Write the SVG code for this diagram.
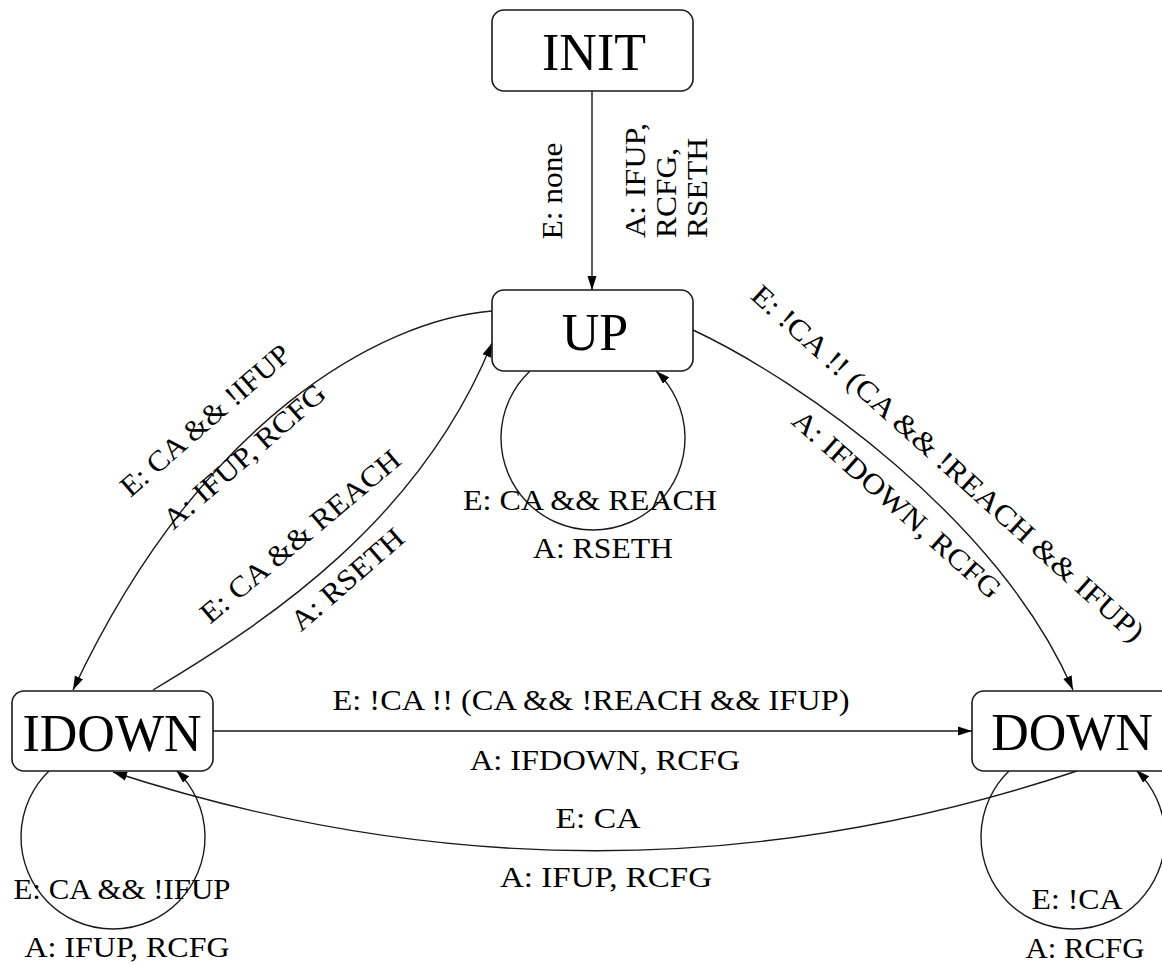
<svg xmlns="http://www.w3.org/2000/svg" width="1162" height="965" viewBox="0 0 1162 965">
<style>
.node rect{fill:#fff;stroke:#1a1a1a;stroke-width:1.6}
.node text{font-family:'Liberation Serif','DejaVu Serif',serif;font-size:52px;fill:#000;text-anchor:middle}
.edge path,.edge line{fill:none;stroke:#1a1a1a;stroke-width:1.4}
.lbl{font-family:'Liberation Serif','DejaVu Serif',serif;font-size:29px;fill:#000;text-anchor:middle}
.lbls{font-family:'Liberation Serif','DejaVu Serif',serif;font-size:29px;fill:#000;text-anchor:start}
</style>
<defs>
<marker id="ah" markerUnits="userSpaceOnUse" markerWidth="15" markerHeight="10" refX="14" refY="5" orient="auto">
<path d="M0,0.5 L14,5 L0,9.5 z" fill="#000"/>
</marker>
</defs>
<rect width="1162" height="965" fill="#fff"/>
<g id="connectors" class="edge">
<line x1="592" y1="91" x2="592" y2="290" marker-end="url(#ah)"/>
<path d="M492,311 C380,320 200,420 73,690" marker-end="url(#ah)"/>
<path d="M153,690 C270,620 420,520 492,343" marker-end="url(#ah)"/>
<path d="M530,371 A92,92 0 1 0 656,371" marker-end="url(#ah)"/>
<path d="M693,330 C800,380 1000,520 1073,690" marker-end="url(#ah)"/>
<line x1="213" y1="731" x2="972" y2="731" marker-end="url(#ah)"/>
<path d="M1077,771 Q600,930 113,772" marker-end="url(#ah)"/>
<path d="M50,770 A92,92 0 1 0 176,770" marker-end="url(#ah)"/>
<path d="M1010,770 A92,92 0 1 0 1136,770" marker-end="url(#ah)"/>
</g>
<g id="edge-labels">
<text class="lbl" transform="translate(552,191) rotate(-90)" x="0" y="10" textLength="97" lengthAdjust="spacingAndGlyphs">E: none</text>
<text class="lbls" transform="translate(645,238) rotate(-90)" textLength="115" lengthAdjust="spacingAndGlyphs">A: IFUP,</text>
<text class="lbls" transform="translate(676,238) rotate(-90)" textLength="90" lengthAdjust="spacingAndGlyphs">RCFG,</text>
<text class="lbls" transform="translate(707,238) rotate(-90)" textLength="100" lengthAdjust="spacingAndGlyphs">RSETH</text>
<text class="lbl" transform="translate(205,420) rotate(-41)" x="0" y="10" textLength="215" lengthAdjust="spacingAndGlyphs">E: CA &amp;&amp; !IFUP</text>
<text class="lbl" transform="translate(244,456) rotate(-41)" x="0" y="10" textLength="205" lengthAdjust="spacingAndGlyphs">A: IFUP, RCFG</text>
<text class="lbl" transform="translate(300,536) rotate(-40)" x="0" y="10" textLength="252" lengthAdjust="spacingAndGlyphs">E: CA &amp;&amp; REACH</text>
<text class="lbl" transform="translate(347,579) rotate(-41)" x="0" y="10" textLength="140" lengthAdjust="spacingAndGlyphs">A: RSETH</text>
<text class="lbl" transform="translate(948,463) rotate(42)" x="0" y="10" textLength="517" lengthAdjust="spacingAndGlyphs">E: !CA !! (CA &amp;&amp; !REACH &amp;&amp; IFUP)</text>
<text class="lbl" transform="translate(897,504) rotate(41.5)" x="0" y="10" textLength="268" lengthAdjust="spacingAndGlyphs">A: IFDOWN, RCFG</text>
<text class="lbl" x="590" y="510" textLength="254" lengthAdjust="spacingAndGlyphs">E: CA &amp;&amp; REACH</text>
<text class="lbl" x="603" y="558" textLength="140" lengthAdjust="spacingAndGlyphs">A: RSETH</text>
<text class="lbl" x="591" y="710" textLength="517" lengthAdjust="spacingAndGlyphs">E: !CA !! (CA &amp;&amp; !REACH &amp;&amp; IFUP)</text>
<text class="lbl" x="605" y="770" textLength="270" lengthAdjust="spacingAndGlyphs">A: IFDOWN, RCFG</text>
<text class="lbl" x="598" y="828" textLength="85" lengthAdjust="spacingAndGlyphs">E: CA</text>
<text class="lbl" x="606" y="887" textLength="212" lengthAdjust="spacingAndGlyphs">A: IFUP, RCFG</text>
<text class="lbl" x="122" y="899" textLength="217" lengthAdjust="spacingAndGlyphs">E: CA &amp;&amp; !IFUP</text>
<text class="lbl" x="127" y="957" textLength="205" lengthAdjust="spacingAndGlyphs">A: IFUP, RCFG</text>
<text class="lbl" x="1077" y="909" textLength="91" lengthAdjust="spacingAndGlyphs">E: !CA</text>
<text class="lbl" x="1085" y="958" textLength="119" lengthAdjust="spacingAndGlyphs">A: RCFG</text>
</g>
<g id="INIT" class="node">
<rect x="492" y="10" width="201" height="81" rx="12"/>
<text x="594" y="70">INIT</text>
</g>
<g id="UP" class="node">
<rect x="492" y="290" width="201" height="81" rx="12"/>
<text x="595" y="350">UP</text>
</g>
<g id="IDOWN" class="node">
<rect x="12" y="691" width="201" height="80" rx="12"/>
<text x="112" y="751">IDOWN</text>
</g>
<g id="DOWN" class="node">
<rect x="972" y="691" width="201" height="80" rx="12"/>
<text x="1072" y="750">DOWN</text>
</g>
</svg>
